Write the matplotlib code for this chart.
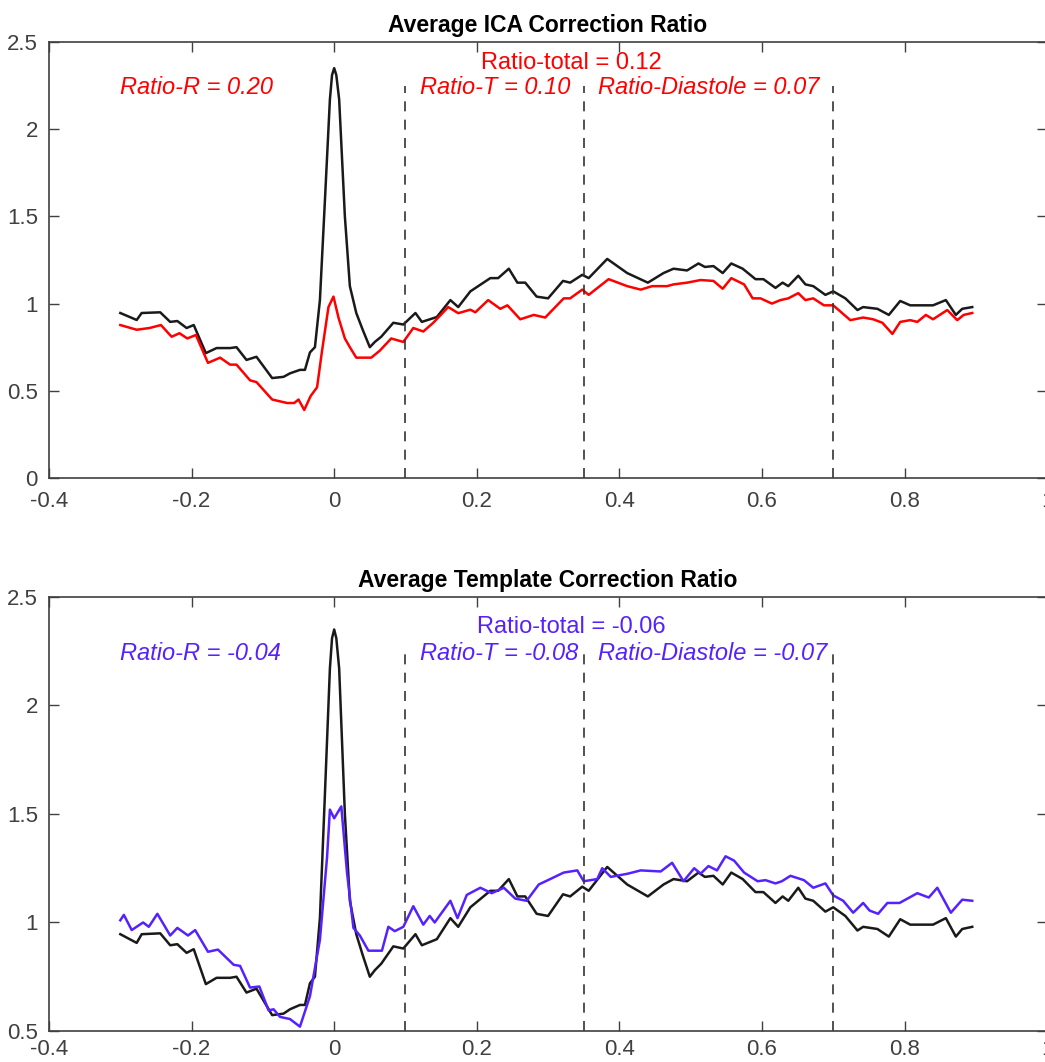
import matplotlib
matplotlib.use('Agg')
import matplotlib.pyplot as plt
from matplotlib.ticker import FuncFormatter

plt.rcParams['font.family'] = ['Liberation Sans', 'DejaVu Sans']

# reference curve (same in both panels)
x_ref = [-0.3, -0.277, -0.27, -0.244, -0.23, -0.22, -0.207, -0.197, -0.18, -0.165,
         -0.146, -0.137, -0.123, -0.109, -0.087, -0.071, -0.062, -0.048, -0.041, -0.034,
         -0.027, -0.02, -0.013, -0.006, -0.003, 0.0, 0.003, 0.007, 0.015, 0.022, 0.031, 0.04,
         0.05, 0.057, 0.066, 0.083, 0.097, 0.114, 0.123, 0.144, 0.163, 0.174,
         0.191, 0.219, 0.23, 0.245, 0.257, 0.268, 0.284, 0.30, 0.321, 0.331,
         0.348, 0.357, 0.383, 0.411, 0.44, 0.462, 0.476, 0.495, 0.511, 0.52,
         0.532, 0.545, 0.557, 0.573, 0.591, 0.602, 0.619, 0.629, 0.637, 0.651,
         0.661, 0.672, 0.689, 0.70, 0.717, 0.734, 0.742, 0.762, 0.778, 0.794,
         0.808, 0.822, 0.84, 0.858, 0.872, 0.881, 0.895]
y_ref = [0.946, 0.906, 0.946, 0.95, 0.895, 0.90, 0.86, 0.877, 0.716, 0.745,
         0.745, 0.75, 0.677, 0.695, 0.573, 0.58, 0.60, 0.62, 0.62, 0.72,
         0.75, 1.02, 1.59, 2.17, 2.31, 2.35, 2.31, 2.17, 1.50, 1.10, 0.946, 0.85,
         0.75, 0.78, 0.81, 0.89, 0.88, 0.946, 0.895, 0.923, 1.02, 0.98,
         1.07, 1.146, 1.146, 1.20, 1.12, 1.12, 1.04, 1.03, 1.13, 1.12,
         1.165, 1.146, 1.256, 1.175, 1.12, 1.175, 1.20, 1.19, 1.23, 1.21,
         1.215, 1.175, 1.23, 1.20, 1.14, 1.14, 1.09, 1.12, 1.10, 1.16,
         1.11, 1.10, 1.05, 1.07, 1.03, 0.963, 0.98, 0.97, 0.935, 1.015,
         0.99, 0.99, 0.99, 1.02, 0.935, 0.97, 0.98]

# ICA corrected
x_ica = [-0.3, -0.277, -0.259, -0.243, -0.228, -0.217, -0.206, -0.194, -0.177, -0.16,
         -0.146, -0.137, -0.118, -0.109, -0.087, -0.066, -0.056, -0.05, -0.042, -0.033,
         -0.024, -0.017, -0.008, -0.001, 0.006, 0.015, 0.022, 0.031, 0.04, 0.052,
         0.064, 0.08, 0.097, 0.111, 0.125, 0.139, 0.16, 0.174, 0.191, 0.198,
         0.216, 0.233, 0.243, 0.261, 0.28, 0.296, 0.322, 0.331, 0.348, 0.357,
         0.385, 0.411, 0.43, 0.446, 0.467, 0.476, 0.495, 0.514, 0.532, 0.545,
         0.557, 0.575, 0.587, 0.598, 0.614, 0.626, 0.637, 0.651, 0.661, 0.672,
         0.687, 0.70, 0.724, 0.742, 0.756, 0.769, 0.783, 0.794, 0.808, 0.818,
         0.83, 0.84, 0.86, 0.874, 0.883, 0.895]
y_ica = [0.877, 0.85, 0.86, 0.877, 0.81, 0.83, 0.80, 0.82, 0.66, 0.69,
         0.65, 0.65, 0.56, 0.55, 0.45, 0.43, 0.43, 0.45, 0.39, 0.47,
         0.52, 0.73, 0.98, 1.04, 0.92, 0.80, 0.75, 0.69, 0.69, 0.69,
         0.73, 0.80, 0.78, 0.86, 0.84, 0.89, 0.98, 0.945, 0.965, 0.95,
         1.02, 0.97, 0.99, 0.91, 0.935, 0.92, 1.03, 1.03, 1.08, 1.05,
         1.14, 1.10, 1.08, 1.10, 1.10, 1.11, 1.12, 1.135, 1.13, 1.085,
         1.146, 1.11, 1.03, 1.03, 1.00, 1.02, 1.03, 1.06, 1.02, 1.03,
         0.99, 0.99, 0.905, 0.92, 0.91, 0.89, 0.826, 0.895, 0.905, 0.895,
         0.935, 0.91, 0.963, 0.905, 0.935, 0.946]

# template corrected
x_tpl = [-0.3, -0.295, -0.284, -0.268, -0.26, -0.248, -0.23, -0.22, -0.205, -0.195,
         -0.177, -0.163, -0.141, -0.132, -0.118, -0.105, -0.092, -0.085, -0.076, -0.062,
         -0.048, -0.034, -0.02, -0.01, -0.006, 0.0, 0.01, 0.018, 0.027, 0.036,
         0.048, 0.067, 0.076, 0.085, 0.097, 0.111, 0.125, 0.134, 0.141, 0.163,
         0.173, 0.186, 0.205, 0.221, 0.238, 0.254, 0.27, 0.287, 0.303, 0.322,
         0.341, 0.35, 0.369, 0.376, 0.388, 0.412, 0.43, 0.458, 0.474, 0.49,
         0.505, 0.514, 0.525, 0.537, 0.549, 0.561, 0.575, 0.594, 0.605, 0.619,
         0.628, 0.64, 0.659, 0.672, 0.689, 0.70, 0.714, 0.728, 0.742, 0.751,
         0.763, 0.776, 0.793, 0.818, 0.834, 0.846, 0.865, 0.881, 0.895]
y_tpl = [1.01, 1.035, 0.965, 1.0, 0.98, 1.04, 0.94, 0.975, 0.94, 0.965,
         0.865, 0.875, 0.805, 0.80, 0.70, 0.705, 0.595, 0.60, 0.565, 0.555,
         0.52, 0.66, 0.92, 1.30, 1.52, 1.48, 1.535, 1.23, 0.975, 0.94,
         0.87, 0.87, 0.98, 0.96, 0.98, 1.075, 0.99, 1.03, 1.0, 1.10,
         1.02, 1.127, 1.16, 1.135, 1.16, 1.11, 1.10, 1.175, 1.20, 1.23,
         1.24, 1.19, 1.20, 1.25, 1.21, 1.225, 1.24, 1.235, 1.275, 1.19,
         1.25, 1.225, 1.26, 1.24, 1.305, 1.285, 1.23, 1.19, 1.195, 1.18,
         1.19, 1.215, 1.195, 1.16, 1.18, 1.125, 1.10, 1.045, 1.09, 1.055,
         1.04, 1.09, 1.09, 1.135, 1.115, 1.16, 1.045, 1.105, 1.10]

bounds = [0.1, 0.35, 0.7]
titles = ['Average ICA Correction Ratio', 'Average Template Correction Ratio']
txt_ica = ['Ratio-R = 0.20', 'Ratio-T = 0.10', 'Ratio-Diastole = 0.07', 'Ratio-total = 0.12']
txt_tpl = ['Ratio-R = -0.04', 'Ratio-T = -0.08', 'Ratio-Diastole = -0.07', 'Ratio-total = -0.06']

red = '#ff0000'
blue = '#5522ff'
axc = '#404040'

fig = plt.figure(figsize=(10.45, 10.62), dpi=100)
ax1 = fig.add_axes([0.0469, 0.5499, 0.9551, 0.4106])
ax2 = fig.add_axes([0.0469, 0.0292, 0.9551, 0.4087])

panels = [(ax1, x_ica, y_ica, red, txt_ica, 0, 2.5, 2.38, 9),
          (ax2, x_tpl, y_tpl, blue, txt_tpl, 0.5, 2.5, 2.36, 6)]

for i, (ax, xs, ys, col, txts, ylo, yhi, ytot, xpad) in enumerate(panels):
    ax.plot(x_ref, y_ref, color='#1a1a1a', linewidth=1.8)
    ax.plot(xs, ys, color=col, linewidth=1.8)
    for b in bounds:
        ax.plot([b, b], [ylo, 2.25], color='#333333', linestyle=(0, (6, 5)), linewidth=1.2)
    ax.set_xlim(-0.4, 1.0)
    ax.set_ylim(ylo, yhi)
    ax.set_xticks([-0.4, -0.2, 0, 0.2, 0.4, 0.6, 0.8, 1.0])
    ax.set_yticks([v / 2 for v in range(int(ylo * 2), 6)])
    ax.xaxis.set_major_formatter(FuncFormatter(lambda v, p: '%g' % round(v, 2)))
    ax.yaxis.set_major_formatter(FuncFormatter(lambda v, p: '%g' % round(v, 2)))
    ax.tick_params(direction='in', top=True, right=True, length=7, width=1,
                   colors=axc, labelsize=16)
    ax.tick_params(axis='x', pad=xpad)
    ax.tick_params(axis='y', pad=8)
    for s in ax.spines.values():
        s.set_color(axc)
        s.set_linewidth(1.2)
    ax.set_title(titles[i], fontsize=16.5, fontweight='bold', pad=7)
    ax.text(-0.3, 2.24, txts[0], color=col, fontsize=17, style='italic', va='center')
    ax.text(0.12, 2.24, txts[1], color=col, fontsize=17, style='italic', va='center')
    ax.text(0.37, 2.24, txts[2], color=col, fontsize=17, style='italic', va='center')
    ax.text(0.333, ytot, txts[3], color=col, fontsize=17, ha='center', va='center')

fig.savefig('out.png', dpi=100)
plt.close(fig)
